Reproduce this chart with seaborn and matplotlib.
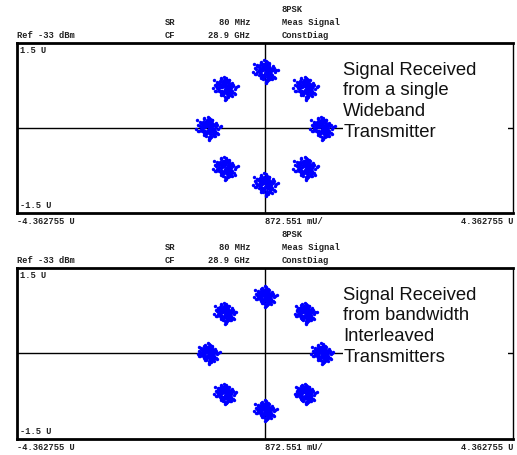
import numpy as np
import pandas as pd
import matplotlib
matplotlib.use("Agg")
import matplotlib.pyplot as plt
from matplotlib.patches import Rectangle
import seaborn as sns

sns.set_style("white")
plt.rcParams['font.family'] = ['DejaVu Sans']

# 8PSK symbol centres (I, Q) in U
sym_i = [1.0, 0.707, 0.0, -0.707, -1.0, -0.707, 0.0, 0.707]
sym_q = [0.0, 0.707, 1.0, 0.707, 0.0, -0.707, -1.0, -0.707]

# noise offsets around each symbol (read as a cloud of about +/-0.2 U)
noise_i = [0.02, -0.05, 0.08, -0.11, 0.03, 0.12, -0.07, 0.00, 0.15, -0.14,
           0.06, -0.02, 0.09, -0.09, 0.11, -0.04, 0.04, -0.12, 0.13, -0.16,
           0.01, 0.07, -0.06, 0.18, -0.19, 0.10, -0.08, 0.05, -0.01, 0.14,
           -0.10, 0.03, -0.13, 0.08, 0.21, -0.22, 0.02, -0.03, 0.06, -0.07,
           0.11, -0.15, 0.16, -0.05, 0.00, 0.09, -0.11, 0.04, -0.02, 0.13,
           -0.06, 0.07, -0.09, 0.01, 0.10, -0.04, 0.05, -0.08, 0.12, -0.01,
           0.03, -0.12, 0.17, -0.17, 0.06, -0.03, 0.08, -0.10, 0.02, 0.14,
           -0.14, 0.04, -0.06, 0.09, 0.00, -0.02, 0.11, -0.08, 0.07, -0.05,
           0.24, -0.20, 0.01, -0.01, 0.05, 0.19, -0.18, 0.03, -0.07, 0.10,
           0.04, -0.03, 0.06, -0.06, 0.01, 0.03, -0.04, 0.07, -0.01, 0.02]
noise_q = [0.01, 0.06, -0.04, 0.02, 0.10, -0.09, -0.05, 0.13, 0.03, -0.01,
           0.12, -0.10, -0.11, 0.07, 0.05, -0.14, 0.15, 0.00, -0.06, 0.04,
           -0.16, 0.09, 0.11, -0.02, -0.05, -0.12, 0.16, -0.07, 0.08, 0.10,
           -0.03, -0.18, 0.09, 0.14, 0.02, -0.01, 0.19, -0.08, 0.00, -0.13,
           -0.09, 0.11, 0.06, 0.03, -0.04, 0.07, -0.06, -0.11, 0.14, -0.15,
           0.02, -0.02, 0.12, 0.05, -0.08, 0.09, 0.06, -0.10, 0.00, -0.07,
           0.17, 0.08, -0.10, -0.05, -0.15, 0.13, 0.03, 0.05, -0.20, 0.07,
           0.10, -0.04, -0.12, -0.01, 0.08, 0.04, -0.05, 0.01, 0.15, -0.09,
           0.03, 0.14, -0.22, 0.21, -0.17, -0.12, 0.06, 0.11, 0.18, -0.14,
           -0.03, 0.05, 0.04, -0.06, -0.02, -0.07, 0.03, 0.00, 0.06, -0.05]

x_span = 4.362755
y_span = 1.5

panels = [
    {"rect": [0.0329, 0.5319, 0.9594, 0.3736],
     "label": "Signal Received\nfrom a single\nWideband\nTransmitter", "scale": 0.95},
    {"rect": [0.0329, 0.0352, 0.9594, 0.3758],
     "label": "Signal Received\nfrom bandwidth\nInterleaved\nTransmitters", "scale": 0.85},
]

fig = plt.figure(figsize=(5.17, 4.55), dpi=100)
mono = dict(family="Liberation Mono", fontsize=6.3, fontweight="bold", color="#222222")

for p in panels:
    l, b, w, h = p["rect"]
    ax = fig.add_axes([l, b, w, h])
    sub = pd.DataFrame({
        "I": [sym_i[k] + dx * p["scale"] for k in range(8) for dx in noise_i],
        "Q": [sym_q[k] + dy * p["scale"] for k in range(8) for dy in noise_q],
    })
    ax.axhline(0, color="black", lw=1.0, zorder=1)
    ax.axvline(0, color="black", lw=1.0, zorder=1)
    sns.scatterplot(data=sub, x="I", y="Q", color="#0000ff", s=6, marker="o",
                    linewidth=0, ax=ax, zorder=2)
    ax.set_xlim(-x_span, x_span)
    ax.set_ylim(-y_span, y_span)
    ax.set_xticks([])
    ax.set_yticks([])
    ax.set_xlabel("")
    ax.set_ylabel("")
    for side in ["left", "top", "bottom"]:
        ax.spines[side].set_linewidth(2.0)
        ax.spines[side].set_color("black")
    ax.spines["right"].set_linewidth(1.0)
    ax.spines["right"].set_color("black")

    # corner labels inside the box
    ax.text(0.006, 0.985, "1.5 U", transform=ax.transAxes, va="top", ha="left", **mono)
    ax.text(0.006, 0.015, "-1.5 U", transform=ax.transAxes, va="bottom", ha="left", **mono)
    # x-axis labels under the box
    ax.text(0.0, -0.025, "-4.362755 U", transform=ax.transAxes, va="top", ha="left", **mono)
    ax.text(0.5, -0.025, "872.551 mU/", transform=ax.transAxes, va="top", ha="left", **mono)
    ax.text(1.0, -0.025, "4.362755 U", transform=ax.transAxes, va="top", ha="right", **mono)
    # header lines above the box
    ax.text(0.0, 1.02, "Ref -33 dBm", transform=ax.transAxes, va="bottom", ha="left", **mono)
    ax.text(0.298, 1.02, "CF", transform=ax.transAxes, va="bottom", ha="left", **mono)
    ax.text(0.298, 1.095, "SR", transform=ax.transAxes, va="bottom", ha="left", **mono)
    ax.text(0.47, 1.02, "28.9 GHz", transform=ax.transAxes, va="bottom", ha="right", **mono)
    ax.text(0.47, 1.095, "80 MHz", transform=ax.transAxes, va="bottom", ha="right", **mono)
    ax.text(0.534, 1.02, "ConstDiag", transform=ax.transAxes, va="bottom", ha="left", **mono)
    ax.text(0.534, 1.095, "Meas Signal", transform=ax.transAxes, va="bottom", ha="left", **mono)
    ax.text(0.534, 1.17, "8PSK", transform=ax.transAxes, va="bottom", ha="left", **mono)

    # white panel behind the annotation hides the axis line on the right
    ax.add_patch(Rectangle((0.658, 0.14), 0.332, 0.77, transform=ax.transAxes,
                           facecolor="white", edgecolor="none", zorder=3))
    ax.text(0.658, 0.89, p["label"], transform=ax.transAxes, va="top", ha="left",
            family="Liberation Sans", fontsize=13.3, linespacing=1.28, color="#111111",
            zorder=4)

fig.savefig("out.png", dpi=100)
